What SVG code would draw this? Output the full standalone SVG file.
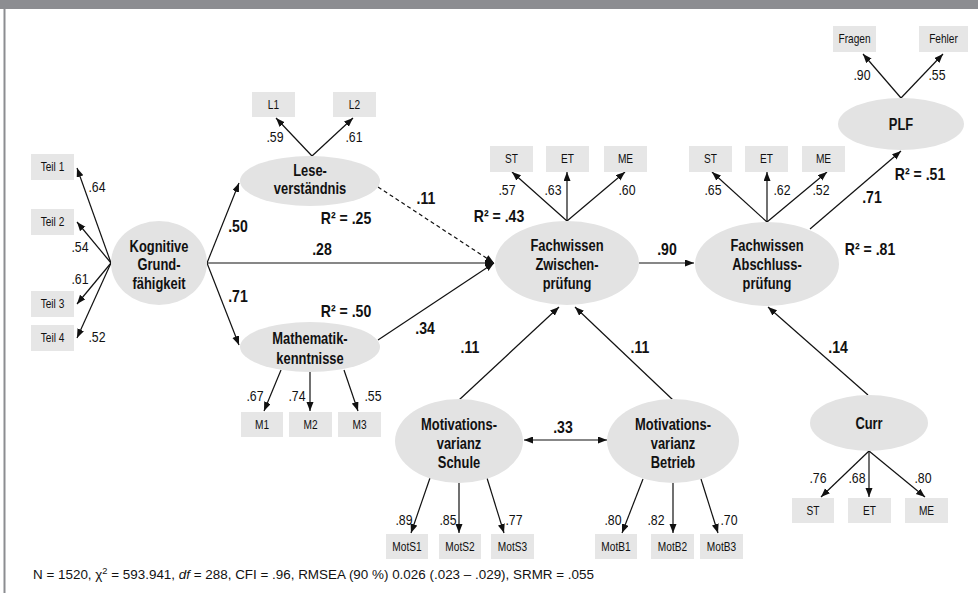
<svg xmlns="http://www.w3.org/2000/svg" width="978" height="593" viewBox="0 0 978 593">
<style>
text{font-family:"Liberation Sans",Arial,sans-serif;fill:#111}
.box{fill:#e6e6e6}
.lat{fill:#e3e3e3}
.ind,.nl,.ld,.pc{text-anchor:middle;transform-box:fill-box;transform-origin:center}
.ind{font-size:13px;transform:scale(.78,1)}
.nl{font-size:17px;font-weight:bold;transform:scale(.76,1)}
.ld{font-size:14px;transform:scale(.88,1)}
.pc{font-size:16px;font-weight:bold;transform:scale(.88,1)}
.ln{stroke:#111;stroke-width:1.2;fill:none}
.ar{marker-end:url(#ah)}
.dash{stroke-dasharray:4 3}
</style>
<defs>
<marker id="ah" markerUnits="userSpaceOnUse" markerWidth="10" markerHeight="8" refX="9" refY="3.5" orient="auto">
<path d="M0,0 L9,3.5 L0,7 z" fill="#111"/>
</marker>
<marker id="ahs" markerUnits="userSpaceOnUse" markerWidth="10" markerHeight="8" refX="0" refY="3.5" orient="auto">
<path d="M9,0 L0,3.5 L9,7 z" fill="#111"/>
</marker>
</defs>
<rect x="0" y="0" width="978" height="593" fill="#fff"/>
<rect x="0" y="0" width="978" height="9" fill="#8c8d91"/>
<rect x="3.5" y="0" width="2" height="593" fill="#8c8d91"/>

<g id="connectors">
<line class="ln ar" x1="111" y1="263" x2="77" y2="168"/>
<line class="ln ar" x1="111" y1="263" x2="77" y2="222"/>
<line class="ln ar" x1="111" y1="263" x2="77" y2="304"/>
<line class="ln ar" x1="111" y1="263" x2="77" y2="338"/>
<line class="ln ar" x1="207" y1="263" x2="239" y2="183"/>
<line class="ln ar" x1="207" y1="263" x2="239" y2="345"/>
<line class="ln ar" x1="207" y1="263" x2="494" y2="263"/>
<line class="ln ar" x1="312" y1="156" x2="276" y2="118"/>
<line class="ln ar" x1="312" y1="156" x2="353" y2="118"/>
<line class="ln ar dash" x1="378" y1="187" x2="494" y2="263"/>
<line class="ln ar" x1="378" y1="340" x2="494" y2="263"/>
<line class="ln ar" x1="281" y1="370" x2="264" y2="411"/>
<line class="ln ar" x1="310" y1="372" x2="310" y2="411"/>
<line class="ln ar" x1="344" y1="370" x2="358" y2="411"/>
<line class="ln ar" x1="567" y1="221" x2="512" y2="172"/>
<line class="ln ar" x1="567" y1="221" x2="567" y2="172"/>
<line class="ln ar" x1="567" y1="221" x2="625" y2="172"/>
<line class="ln ar" x1="639" y1="263" x2="694" y2="263"/>
<line class="ln ar" x1="767" y1="222" x2="712" y2="172"/>
<line class="ln ar" x1="767" y1="222" x2="767" y2="172"/>
<line class="ln ar" x1="767" y1="222" x2="827" y2="172"/>
<line class="ln ar" x1="810" y1="229" x2="901" y2="151"/>
<line class="ln ar" x1="901" y1="98" x2="863" y2="54"/>
<line class="ln ar" x1="901" y1="98" x2="943" y2="54"/>
<line class="ln ar" x1="868" y1="395" x2="768" y2="307"/>
<line class="ln ar" x1="869" y1="451" x2="821" y2="497"/>
<line class="ln ar" x1="869" y1="451" x2="869" y2="497"/>
<line class="ln ar" x1="869" y1="451" x2="925" y2="497"/>
<line class="ln ar" x1="459" y1="400" x2="559" y2="307"/>
<line class="ln ar" x1="673" y1="400" x2="575" y2="307"/>
<line class="ln ar" x1="524" y1="440" x2="607" y2="440" marker-start="url(#ahs)"/>
<line class="ln ar" x1="430" y1="478" x2="411" y2="533"/>
<line class="ln ar" x1="459" y1="483" x2="459" y2="533"/>
<line class="ln ar" x1="487" y1="478" x2="504" y2="533"/>
<line class="ln ar" x1="643" y1="479" x2="622" y2="533"/>
<line class="ln ar" x1="673" y1="483" x2="673" y2="533"/>
<line class="ln ar" x1="701" y1="479" x2="718" y2="533"/>
</g>

<g id="labels">
<text class="ld" x="97" y="192">.64</text>
<text class="ld" x="80" y="252">.54</text>
<text class="ld" x="80" y="284">.61</text>
<text class="ld" x="97" y="342">.52</text>
<text class="ld" x="275" y="142">.59</text>
<text class="ld" x="354" y="142">.61</text>
<text class="ld" x="255" y="401">.67</text>
<text class="ld" x="297" y="401">.74</text>
<text class="ld" x="373" y="401">.55</text>
<text class="ld" x="507" y="195">.57</text>
<text class="ld" x="553" y="195">.63</text>
<text class="ld" x="627" y="195">.60</text>
<text class="ld" x="713" y="195">.65</text>
<text class="ld" x="782" y="195">.62</text>
<text class="ld" x="821" y="195">.52</text>
<text class="ld" x="862" y="80">.90</text>
<text class="ld" x="937" y="80">.55</text>
<text class="ld" x="818" y="483">.76</text>
<text class="ld" x="857" y="483">.68</text>
<text class="ld" x="923" y="483">.80</text>
<text class="ld" x="404" y="525">.89</text>
<text class="ld" x="448" y="525">.85</text>
<text class="ld" x="514" y="525">.77</text>
<text class="ld" x="613" y="525">.80</text>
<text class="ld" x="656" y="525">.82</text>
<text class="ld" x="729" y="525">.70</text>
<text class="pc" x="238" y="232">.50</text>
<text class="pc" x="322" y="255">.28</text>
<text class="pc" x="238" y="302">.71</text>
<text class="pc" x="426" y="204">.11</text>
<text class="pc" x="425" y="334">.34</text>
<text class="pc" x="667" y="255">.90</text>
<text class="pc" x="872" y="203">.71</text>
<text class="pc" x="470" y="353">.11</text>
<text class="pc" x="640" y="353">.11</text>
<text class="pc" x="563" y="433">.33</text>
<text class="pc" x="838" y="353">.14</text>
<text class="pc" x="346" y="224">R² = .25</text>
<text class="pc" x="346" y="317">R² = .50</text>
<text class="pc" x="499" y="222">R² = .43</text>
<text class="pc" x="870" y="255">R² = .81</text>
<text class="pc" x="920" y="180">R² = .51</text>
</g>

<g id="teil1"><rect class="box" x="31" y="154" width="43" height="26"/><text class="ind" x="52.5" y="171.5">Teil 1</text></g>
<g id="teil2"><rect class="box" x="31" y="209" width="43" height="26"/><text class="ind" x="52.5" y="226.5">Teil 2</text></g>
<g id="teil3"><rect class="box" x="31" y="291" width="43" height="26"/><text class="ind" x="52.5" y="308.5">Teil 3</text></g>
<g id="teil4"><rect class="box" x="31" y="325" width="43" height="26"/><text class="ind" x="52.5" y="342.5">Teil 4</text></g>
<g id="kognitive"><ellipse class="lat" cx="159" cy="263" rx="48" ry="42"/><text class="nl" x="159" y="252">Kognitive</text><text class="nl" x="159" y="270">Grund-</text><text class="nl" x="159" y="289">fähigkeit</text></g>
<g id="l1"><rect class="box" x="252" y="92" width="43" height="25"/><text class="ind" x="273.5" y="109">L1</text></g>
<g id="l2"><rect class="box" x="333" y="92" width="43" height="25"/><text class="ind" x="354.5" y="109">L2</text></g>
<g id="lese"><ellipse class="lat" cx="310" cy="181" rx="70" ry="25"/><text class="nl" x="310" y="176">Lese-</text><text class="nl" x="310" y="194">verständnis</text></g>
<g id="mathe"><ellipse class="lat" cx="310" cy="347" rx="70" ry="25"/><text class="nl" x="310" y="344">Mathematik-</text><text class="nl" x="310" y="364">kenntnisse</text></g>
<g id="m1"><rect class="box" x="241" y="412" width="42" height="25"/><text class="ind" x="262" y="429">M1</text></g>
<g id="m2"><rect class="box" x="289" y="412" width="43" height="25"/><text class="ind" x="310.5" y="429">M2</text></g>
<g id="m3"><rect class="box" x="338" y="412" width="43" height="25"/><text class="ind" x="359.5" y="429">M3</text></g>
<g id="zwischen"><ellipse class="lat" cx="567" cy="263" rx="72" ry="42"/><text class="nl" x="567" y="251">Fachwissen</text><text class="nl" x="567" y="270">Zwischen-</text><text class="nl" x="567" y="289">prüfung</text></g>
<g id="zst"><rect class="box" x="490" y="146" width="43" height="26"/><text class="ind" x="511.5" y="163.5">ST</text></g>
<g id="zet"><rect class="box" x="546" y="146" width="43" height="26"/><text class="ind" x="567.5" y="163.5">ET</text></g>
<g id="zme"><rect class="box" x="604" y="146" width="43" height="26"/><text class="ind" x="625.5" y="163.5">ME</text></g>
<g id="abschluss"><ellipse class="lat" cx="767" cy="264" rx="72" ry="42"/><text class="nl" x="767" y="251">Fachwissen</text><text class="nl" x="767" y="270">Abschluss-</text><text class="nl" x="767" y="289">prüfung</text></g>
<g id="ast"><rect class="box" x="689" y="146" width="43" height="26"/><text class="ind" x="710.5" y="163.5">ST</text></g>
<g id="aet"><rect class="box" x="745" y="146" width="43" height="26"/><text class="ind" x="766.5" y="163.5">ET</text></g>
<g id="ame"><rect class="box" x="802" y="146" width="43" height="26"/><text class="ind" x="823.5" y="163.5">ME</text></g>
<g id="plf"><ellipse class="lat" cx="901" cy="124" rx="63" ry="26"/><text class="nl" x="901" y="130">PLF</text></g>
<g id="fragen"><rect class="box" x="833" y="26" width="43" height="26"/><text class="ind" x="854.5" y="43.5">Fragen</text></g>
<g id="fehler"><rect class="box" x="919" y="26" width="49" height="26"/><text class="ind" x="943.5" y="43.5">Fehler</text></g>
<g id="curr"><ellipse class="lat" cx="869" cy="423" rx="59" ry="28"/><text class="nl" x="869" y="429">Curr</text></g>
<g id="cst"><rect class="box" x="792" y="498" width="42" height="25"/><text class="ind" x="813" y="515">ST</text></g>
<g id="cet"><rect class="box" x="848" y="498" width="43" height="25"/><text class="ind" x="869.5" y="515">ET</text></g>
<g id="cme"><rect class="box" x="905" y="498" width="43" height="25"/><text class="ind" x="926.5" y="515">ME</text></g>
<g id="schule"><ellipse class="lat" cx="459" cy="441" rx="64" ry="42"/><text class="nl" x="459" y="430">Motivations-</text><text class="nl" x="459" y="449">varianz</text><text class="nl" x="459" y="468">Schule</text></g>
<g id="betrieb"><ellipse class="lat" cx="673" cy="441" rx="66" ry="42"/><text class="nl" x="673" y="430">Motivations-</text><text class="nl" x="673" y="449">varianz</text><text class="nl" x="673" y="468">Betrieb</text></g>
<g id="mots1"><rect class="box" x="386" y="534" width="42" height="25"/><text class="ind" x="407" y="551">MotS1</text></g>
<g id="mots2"><rect class="box" x="439" y="534" width="42" height="25"/><text class="ind" x="460" y="551">MotS2</text></g>
<g id="mots3"><rect class="box" x="491" y="534" width="43" height="25"/><text class="ind" x="512.5" y="551">MotS3</text></g>
<g id="motb1"><rect class="box" x="595" y="534" width="42" height="25"/><text class="ind" x="616" y="551">MotB1</text></g>
<g id="motb2"><rect class="box" x="651" y="534" width="43" height="25"/><text class="ind" x="672.5" y="551">MotB2</text></g>
<g id="motb3"><rect class="box" x="700" y="534" width="43" height="25"/><text class="ind" x="721.5" y="551">MotB3</text></g>

<text x="33" y="579" font-size="13" textLength="561" lengthAdjust="spacingAndGlyphs">N = 1520, χ<tspan font-size="9" dy="-5">2</tspan><tspan dy="5"> = 593.941, </tspan><tspan font-style="italic">df</tspan> = 288, CFI = .96, RMSEA (90 %) 0.026 (.023 – .029), SRMR = .055</text>
</svg>
